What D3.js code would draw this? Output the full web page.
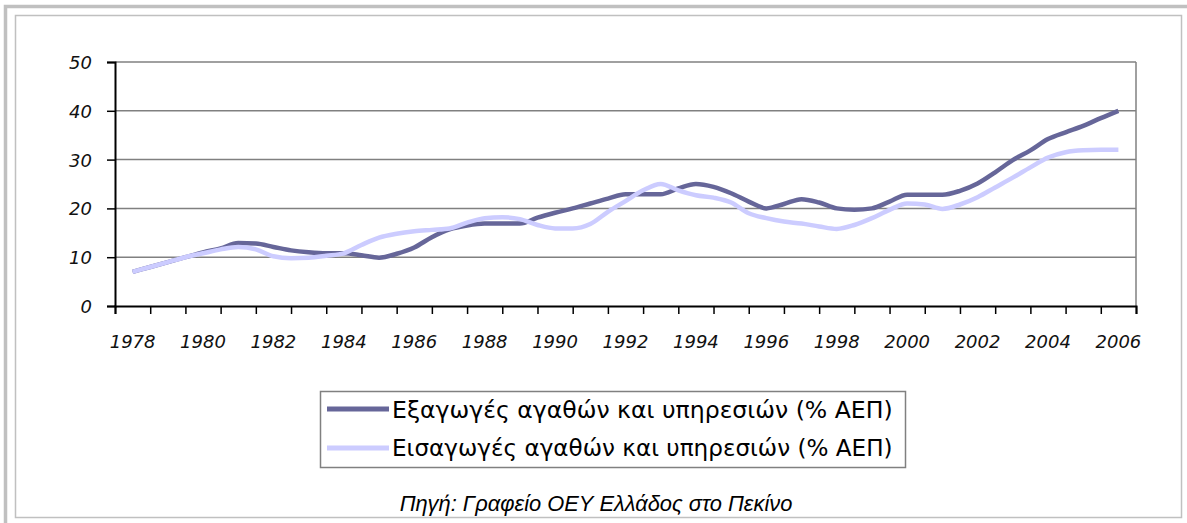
<!DOCTYPE html>
<html>
<head>
<meta charset="utf-8">
<script src="https://cdn.jsdelivr.net/npm/d3@7"></script>
<style>
  body { margin: 0; background: #fff; }
  svg { display: block; }
</style>
</head>
<body>
<div id="chart"></div>
<script>
const width = 1187;
const height = 523;

// half-year points, values
const years = [
  1978, 1978.5, 1979, 1979.5, 1980, 1980.5, 1981, 1981.5, 1982, 1982.5,
  1983, 1983.5, 1984, 1984.5, 1985, 1985.5, 1986, 1986.5, 1987, 1987.5,
  1988, 1988.5, 1989, 1989.5, 1990, 1990.5, 1991, 1991.5, 1992, 1992.5,
  1993, 1993.5, 1994, 1994.5, 1995, 1995.5, 1996, 1996.5, 1997, 1997.5,
  1998, 1998.5, 1999, 1999.5, 2000, 2000.5, 2001, 2001.5, 2002, 2002.5,
  2003, 2003.5, 2004, 2004.5, 2005, 2005.5, 2006
];
const exportsGdp = [
  7.0, 8.0, 9.0, 10.0, 11.0, 11.8, 12.9, 12.8, 12.1, 11.4,
  11.0, 10.8, 10.8, 10.4, 9.9, 10.7, 12.0, 14.1, 15.7, 16.5,
  16.9, 16.9, 16.9, 18.1, 19.1, 20.0, 21.0, 22.0, 22.9, 22.9,
  22.9, 24.1, 25.0, 24.4, 23.1, 21.4, 20.0, 20.9, 21.9, 21.2,
  20.0, 19.7, 20.0, 21.4, 22.8, 22.8, 22.8, 23.6, 25.1, 27.4,
  29.9, 31.9, 34.2, 35.6, 36.9, 38.5, 40.0
];
const importsGdp = [
  7.0, 8.0, 9.0, 10.0, 10.8, 11.6, 12.1, 11.6, 10.2, 9.8,
  9.9, 10.3, 10.8, 12.5, 14.0, 14.8, 15.3, 15.6, 15.9, 17.1,
  18.0, 18.2, 17.8, 16.6, 15.9, 15.9, 16.8, 19.3, 21.5, 23.7,
  25.0, 23.7, 22.7, 22.2, 21.2, 19.0, 18.0, 17.3, 16.9, 16.3,
  15.8, 16.6, 18.0, 19.7, 21.0, 20.8, 19.9, 20.8, 22.3, 24.3,
  26.3, 28.4, 30.4, 31.5, 31.9, 32.0, 32.0
];
const tickYears = [1978, 1980, 1982, 1984, 1986, 1988, 1990, 1992, 1994, 1996, 1998, 2000, 2002, 2004, 2006];
const yTicks = [0, 10, 20, 30, 40, 50];
const seriesNames = [
  "Εξαγωγές αγαθών και υπηρεσιών (% ΑΕΠ)",
  "Εισαγωγές αγαθών και υπηρεσιών (% ΑΕΠ)"
];
const seriesColors = ["#666699", "#ccccff"];
const sourceText = "Πηγή: Γραφείο ΟΕΥ Ελλάδος στο Πεκίνο";

const svg = d3.select("#chart").append("svg").attr("width", width).attr("height", height);

// page frame
svg.append("rect").attr("x", 5.5).attr("y", 6.5).attr("width", 1190).attr("height", 530)
  .attr("fill", "none").attr("stroke", "#c0c0c0").attr("stroke-width", 3.5);
svg.append("rect").attr("x", 15.5).attr("y", 15.5).attr("width", 1166).attr("height", 502)
  .attr("fill", "none").attr("stroke", "#c0c0c0").attr("stroke-width", 1.5);

const plot = { left: 115, right: 1136, top: 62, bottom: 306 };

const x = d3.scaleLinear().domain([1977.5, 2006.5]).range([plot.left, plot.right]);
const y = d3.scaleLinear().domain([0, 50]).range([plot.bottom, plot.top]);

// gridlines
svg.append("g")
  .selectAll("line")
  .data(yTicks.filter((d) => d > 0))
  .join("line")
  .attr("x1", plot.left).attr("x2", plot.right)
  .attr("y1", (d) => y(d)).attr("y2", (d) => y(d))
  .attr("stroke", "#808080").attr("stroke-width", 1.5);

svg.append("line")
  .attr("x1", plot.right).attr("x2", plot.right)
  .attr("y1", plot.top).attr("y2", plot.bottom)
  .attr("stroke", "#808080").attr("stroke-width", 1.5);

// y axis
const yAxis = svg.append("g")
  .attr("transform", `translate(${plot.left},0)`)
  .call(d3.axisLeft(y).tickValues(yTicks).tickSize(8).tickPadding(15));
yAxis.select(".domain").attr("stroke", "#000").attr("stroke-width", 2);
yAxis.selectAll(".tick line").attr("stroke", "#000").attr("stroke-width", 1.5);
yAxis.selectAll("text")
  .attr("font-family", "DejaVu Sans").attr("font-style", "italic")
  .attr("font-size", 18).attr("fill", "#111").attr("dy", "0.36em");

// x axis: tick marks between categories, labels under every second year
const tickMarks = years.filter((d) => d % 1 === 0).map((d) => d - 0.5).concat([2006.5]);
const xAxis = svg.append("g")
  .attr("transform", `translate(0,${plot.bottom})`)
  .call(d3.axisBottom(x).tickValues(tickMarks).tickSize(8).tickFormat(""));
xAxis.select(".domain").attr("stroke", "#000").attr("stroke-width", 2);
xAxis.selectAll(".tick line").attr("stroke", "#000").attr("stroke-width", 1.5);

svg.append("g")
  .selectAll("text")
  .data(tickYears)
  .join("text")
  .attr("x", (d) => x(d))
  .attr("y", 348)
  .attr("text-anchor", "middle")
  .attr("font-family", "DejaVu Sans").attr("font-style", "italic")
  .attr("font-size", 18).attr("fill", "#111")
  .text((d) => d);

// lines
const line = d3.line()
  .x((d) => x(d[0]))
  .y((d) => y(d[1]))
  .curve(d3.curveMonotoneX);

const series = [exportsGdp, importsGdp];
series.forEach((vals, i) => {
  svg.append("path")
    .datum(years.map((yr, j) => [yr, vals[j]]))
    .attr("fill", "none")
    .attr("stroke", seriesColors[i])
    .attr("stroke-width", 4.5)
    .attr("stroke-linejoin", "round")
    .attr("d", line);
});

// legend
svg.append("rect").attr("x", 320.5).attr("y", 391.5).attr("width", 585).attr("height", 76)
  .attr("fill", "#fff").attr("stroke", "#808080").attr("stroke-width", 1.5);

const legend = svg.append("g")
  .selectAll("g")
  .data(seriesNames)
  .join("g")
  .attr("transform", (d, i) => `translate(0,${409 + i * 39})`);

legend.append("line")
  .attr("x1", 327).attr("x2", 389)
  .attr("stroke", (d, i) => seriesColors[i])
  .attr("stroke-width", 5);

legend.append("text")
  .attr("x", 392)
  .attr("dy", "0.36em")
  .attr("font-family", "DejaVu Sans")
  .attr("font-size", 20)
  .attr("fill", "#000")
  .text((d) => d)
  .each(function () {
    const w = this.getComputedTextLength();
    d3.select(this).attr("font-size", 20 * 501 / w);
  });

// source note
svg.append("text")
  .attr("x", 596)
  .attr("y", 511)
  .attr("text-anchor", "middle")
  .attr("font-family", "Liberation Sans Narrow, Liberation Sans")
  .attr("font-style", "italic")
  .attr("font-size", 17)
  .attr("fill", "#000")
  .text(sourceText)
  .each(function () {
    const w = this.getComputedTextLength();
    d3.select(this).attr("font-size", 17 * 393 / w);
  });
</script>
</body>
</html>
